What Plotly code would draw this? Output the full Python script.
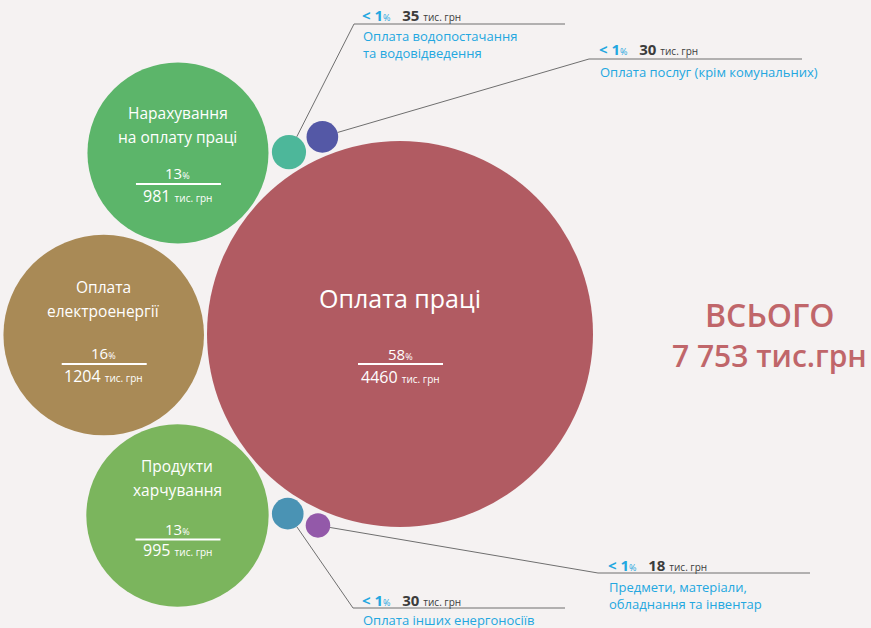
import math
import plotly.graph_objects as go

# ---------------- data ----------------
categories = [
    "Оплата праці",
    "Оплата електроенергії",
    "Продукти харчування",
    "Нарахування на оплату праці",
    "Оплата водопостачання та водовідведення",
    "Оплата послуг (крім комунальних)",
    "Оплата інших енергоносіїв",
    "Предмети, матеріали, обладнання та інвентар",
]
values = [4460, 1204, 995, 981, 35, 30, 30, 18]          # тис. грн
percents = ["58", "16", "13", "13", "< 1", "< 1", "< 1", "< 1"]
total_label = "7 753"

# label line breaks for the text inside / beside bubbles
label_lines = [
    ["Оплата праці"],
    ["Оплата", "електроенергії"],
    ["Продукти", "харчування"],
    ["Нарахування", "на оплату праці"],
    ["Оплата водопостачання", "та водовідведення"],
    ["Оплата послуг (крім комунальних)"],
    ["Оплата інших енергоносіїв"],
    ["Предмети, матеріали,", "обладнання та інвентар"],
]

# ---------------- layout / style ----------------
W, H = 871, 628
colors = ["#b15b62", "#a98a56", "#7bb55d", "#5cb56a", "#4db79a", "#5458a6", "#4a93b4", "#9359a9"]
main_center = (400, 334)           # pixel position of largest bubble
angles = [None, 180.2, 219.2, 140.8, 121.4, 111.5, 238.0, 246.8]   # around main bubble
gap = 3
main_diameter = 386
sizeref = 4460 / main_diameter ** 2          # area-proportional bubble sizing

diam = [math.sqrt(v / sizeref) for v in values]
rad = [d / 2 for d in diam]
cx, cy = [], []
for i in range(len(values)):
    if angles[i] is None:
        cx.append(main_center[0]); cy.append(main_center[1])
    else:
        dist = rad[0] + rad[i] + gap
        a = math.radians(angles[i])
        cx.append(main_center[0] + dist * math.cos(a))
        cy.append(main_center[1] - dist * math.sin(a))

FONT = "Open Sans"
BLUE = "#23a7e0"
DARK = "#3c3c3c"

fig = go.Figure()

# callout leader lines (small bubbles)
callouts = {
    4: dict(corner=(354, 24), end=565, head_y=15, desc_y=44, x0=360),
    5: dict(corner=(589, 59), end=802, head_y=49, desc_y=72, x0=597),
    6: dict(corner=(353, 608), end=565, head_y=600, desc_y=620, x0=360),
    7: dict(corner=(598, 573), end=810, head_y=565, desc_y=595, x0=606),
}
for i, c in callouts.items():
    kx, ky = c["corner"]
    dx, dy = kx - cx[i], ky - cy[i]
    n = math.hypot(dx, dy)
    sx, sy = cx[i] + dx / n * rad[i], cy[i] + dy / n * rad[i]
    fig.add_trace(go.Scatter(
        x=[sx, kx, c["end"]], y=[sy, ky, ky], mode="lines",
        line=dict(color="#6f6f6f", width=1), hoverinfo="skip", showlegend=False))

# bubbles (plotly's area mode halves the value, hence 2*sizeref)
fig.add_trace(go.Scatter(
    x=cx, y=cy, mode="markers",
    marker=dict(size=values, sizemode="area", sizeref=2 * sizeref, sizemin=0,
                color=colors, opacity=1, line=dict(width=0)),
    text=categories, hoverinfo="text", showlegend=False))

ann = []
shapes = []

# labels inside the big bubbles
inner = {
    0: dict(title_dy=[-36], title_size=25, pct_dy=20, line_dy=30, num_dy=43),
    1: dict(title_dy=[-48, -24], title_size=15.5, pct_dy=18, line_dy=29, num_dy=41),
    2: dict(title_dy=[-49, -25], title_size=15.5, pct_dy=14, line_dy=24, num_dy=35),
    3: dict(title_dy=[-40, -16], title_size=15.5, pct_dy=20, line_dy=31, num_dy=43),
}
for i, p in inner.items():
    for line, dy in zip(label_lines[i], p["title_dy"]):
        ann.append(dict(x=cx[i], y=cy[i] + dy, text=line, showarrow=False,
                        xanchor="center", yanchor="middle",
                        font=dict(family=FONT, size=p["title_size"], color="white")))
    ann.append(dict(x=cx[i], y=cy[i] + p["pct_dy"],
                    text=f"{percents[i]}<span style='font-size:9px'>%</span>",
                    showarrow=False, xanchor="center", yanchor="middle",
                    font=dict(family=FONT, size=15, color="white")))
    ann.append(dict(x=cx[i], y=cy[i] + p["num_dy"],
                    text=f"{values[i]} <span style='font-size:10px'>тис. грн</span>",
                    showarrow=False, xanchor="center", yanchor="middle",
                    font=dict(family=FONT, size=16, color="white")))
    shapes.append(dict(type="line", xref="x", yref="y",
                       x0=cx[i] - 42, x1=cx[i] + 43,
                       y0=cy[i] + p["line_dy"], y1=cy[i] + p["line_dy"],
                       line=dict(color="white", width=2)))

# callout texts
for i, c in callouts.items():
    head = (f"<b><span style='color:{BLUE}'>{percents[i].replace('<', '&lt;')}</span></b>"
            f"<span style='color:{BLUE};font-size:9px'>%</span>&nbsp;&nbsp; "
            f"<b>{values[i]}</b> <span style='font-size:10px'>тис. грн</span>")
    ann.append(dict(x=c["x0"], y=c["head_y"], text=head, showarrow=False,
                    xanchor="left", yanchor="middle",
                    font=dict(family=FONT, size=15, color=DARK)))
    ann.append(dict(x=c["x0"] + 1, y=c["desc_y"], text="<br>".join(label_lines[i]),
                    showarrow=False, xanchor="left", yanchor="middle", align="left",
                    font=dict(family=FONT, size=13, color=BLUE)))

# total
ann.append(dict(x=769, y=314, text="ВСЬОГО", showarrow=False, xanchor="center",
                yanchor="middle", font=dict(family=FONT, size=32, color="#c0666a", weight=600)))
ann.append(dict(x=769, y=355, text=f"{total_label} тис.грн", showarrow=False,
                xanchor="center", yanchor="middle",
                font=dict(family=FONT, size=30, color="#c0666a", weight=600)))

fig.update_layout(
    width=W, height=H, autosize=False,
    margin=dict(l=0, r=0, t=0, b=0),
    paper_bgcolor="#f5f2f2", plot_bgcolor="#f5f2f2",
    xaxis=dict(range=[0, W], visible=False, fixedrange=True),
    yaxis=dict(range=[H, 0], visible=False, fixedrange=True),
    annotations=ann, shapes=shapes, hovermode="closest",
)

fig.write_html("out.html", post_script="document.body.style.margin='0';",
               config={"displayModeBar": False})
